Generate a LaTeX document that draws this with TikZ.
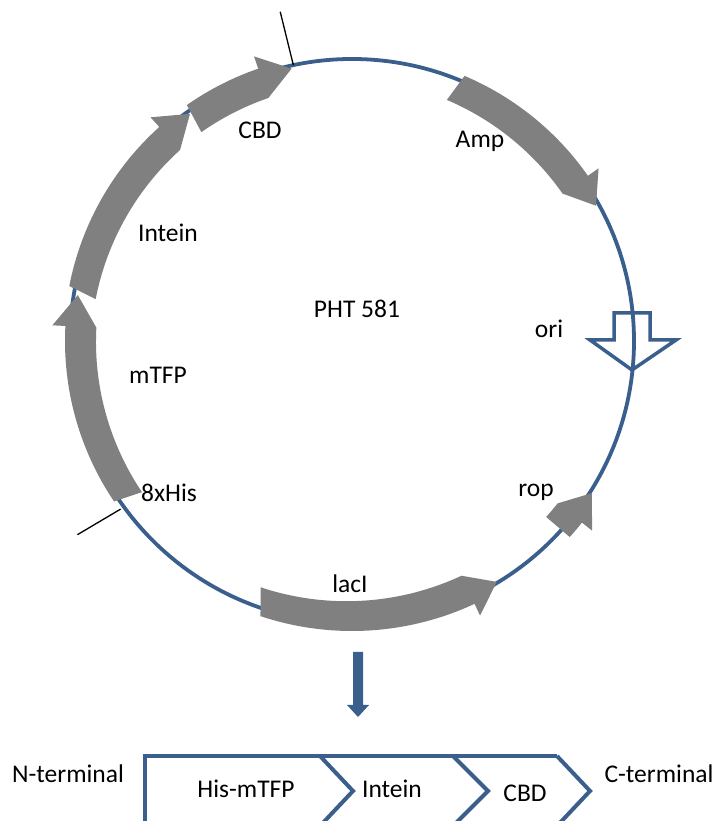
\documentclass[tikz,border=0pt]{standalone}
\usepackage{fontspec}
\setmainfont{Carlito}
\definecolor{plasblue}{RGB}{58,95,140}
\definecolor{arrgray}{RGB}{128,128,128}
% tail angle, head-base angle, tip angle, radius
\newcommand\garrow[4]{%
  \fill[arrgray] (#1:#4+9) arc[start angle=#1, end angle=#2, radius=#4+9]
    -- (#2:#4+22) -- (#3:#4) -- (#2:#4-22)
    arc[start angle=#2, end angle=#1, radius=#4-9] -- cycle;}
\begin{document}
\begin{tikzpicture}[x=1pt,y=1pt,
  lbl/.style={anchor=base, inner sep=0pt, font=\fontsize{25.5}{30}\selectfont},
  tick/.style={black, line width=1.3pt},
  bluebox/.style={plasblue, line width=4pt, line join=miter}]
\useasboundingbox (0,0) rectangle (721,821);
\clip (0,0) rectangle (721,821);
\begin{scope}[shift={(352,480)}]
  \draw[plasblue, line width=3.8pt] (0,0) circle[radius=282];
  \garrow{169}{132}{125.5}{279}
  \garrow{214}{177}{170.5}{278}
  \garrow{125}{109}{102.5}{279}
  \garrow{67}{35}{29}{279}
  \garrow{-42}{-38.3}{-32.4}{284}
  \garrow{251.6}{295}{301}{281}
  \coordinate (t1a) at (102:282);
  \coordinate (t1b) at (102.3:337);
  \coordinate (t2a) at (216:286);
  \coordinate (t2b) at (215.2:336);
  \draw[tick] (t1a) -- (t1b);
  \draw[tick] (t2a) -- (t2b);
\end{scope}
% ori open arrow
\draw[plasblue, line width=3.5pt, line join=miter]
  (614,508) -- (650,508) -- (650,481) -- (676,481) -- (632,451) -- (590,481) -- (614,481) -- cycle;
% labels
\node[lbl] (cbd) at (260,682) {CBD};
\node[lbl] (amp) at (480,673) {Amp};
\node[lbl] (intein) at (168,579) {Intein};
\node[lbl] (pht) at (357,503) {PHT 581};
\node[lbl] (ori) at (549,483) {ori};
\node[lbl] (mtfp) at (158,437) {mTFP};
\node[lbl] (his) at (169,319) {8xHis};
\node[lbl] (rop) at (536,324) {rop};
\node[lbl] (laci) at (350,228) {lacI};
% down arrow
\fill[plasblue] (353,169) -- (363,169) -- (363,116) -- (369,116) -- (358,104) -- (347,116) -- (353,116) -- cycle;
% fusion protein box
\draw[bluebox] (145,-10) -- (145,65) -- (557,65);
\draw[bluebox] (320,65) -- (353,30) -- (320,-5);
\draw[bluebox] (453,65) -- (488,30) -- (453,-5);
\draw[bluebox] (557,65) -- (590,30) -- (557,-5);
\node[lbl] (nterm) at (68,38) {N-terminal};
\node[lbl] (hismtfp) at (246,23) {His-mTFP};
\node[lbl] (intein2) at (392,23) {Intein};
\node[lbl] (cbd2) at (525,19) {CBD};
\node[lbl] (cterm) at (659,38) {C-terminal};
\end{tikzpicture}
\end{document}
